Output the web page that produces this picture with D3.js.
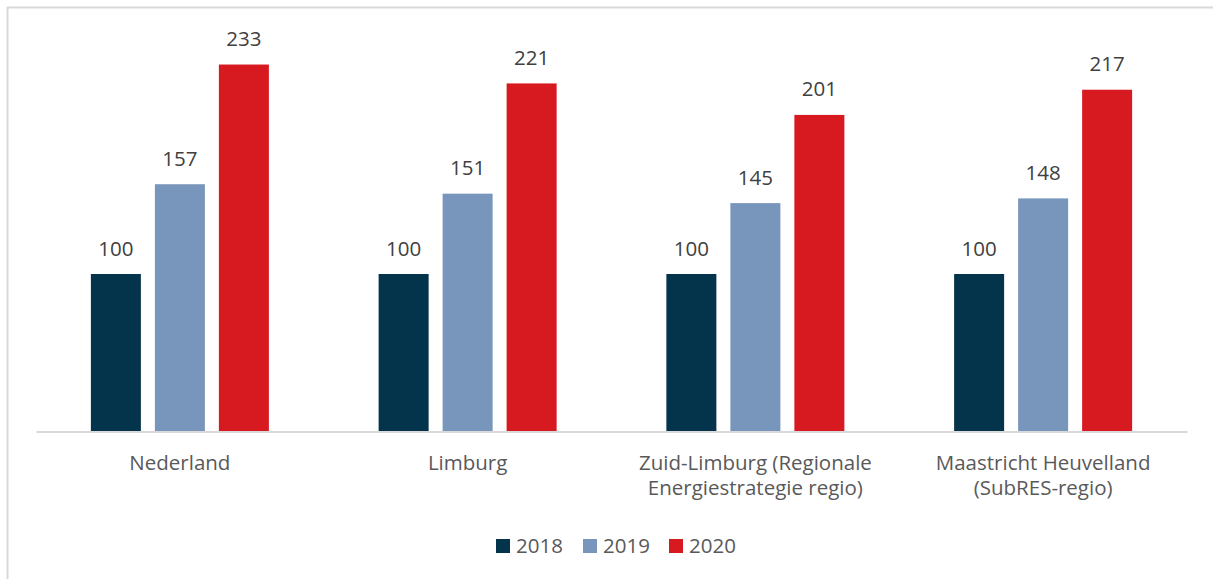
<!DOCTYPE html>
<html>
<head>
<meta charset="utf-8">
<script src="https://cdnjs.cloudflare.com/ajax/libs/d3/7.8.5/d3.min.js"></script>
<style>
  body { margin: 0; background: #fff; }
  text { font-family: "Open Sans", sans-serif; }
</style>
</head>
<body>
<div class="chart"></div>
<script>
var categories = ["Nederland", "Limburg", "Zuid-Limburg (Regionale Energiestrategie regio)", "Maastricht Heuvelland (SubRES-regio)"];
var years = ["2018", "2019", "2020"];
var values2018 = [100, 100, 100, 100];
var values2019 = [157, 151, 145, 148];
var values2020 = [233, 221, 201, 217];
var colors = ["#03344B", "#7895BB", "#D71920"];

var svgWidth = 1213;
var svgHeight = 579;

var svg = d3.select(".chart")
  .append("svg")
  .attr("width", svgWidth)
  .attr("height", svgHeight);

// outer frame (only top and left edge are visible in the crop)
svg.append("line")
  .attr("x1", 7).attr("x2", svgWidth).attr("y1", 7.5).attr("y2", 7.5)
  .attr("stroke", "#D9D9D9").attr("stroke-width", 2);
svg.append("line")
  .attr("x1", 7.5).attr("x2", 7.5).attr("y1", 7).attr("y2", svgHeight)
  .attr("stroke", "#D9D9D9").attr("stroke-width", 2);

var series = [values2018, values2019, values2020];
var data = [];
categories.forEach(function(c, i) {
  years.forEach(function(y, j) {
    data.push({ cat: c, year: y, value: series[j][i] });
  });
});

var x0 = d3.scaleBand()
  .domain(categories)
  .range([36, 1187]);

var x1 = d3.scaleBand()
  .domain(years)
  .range([-89, 89])
  .paddingInner(0.21875);

var y = d3.scaleLinear()
  .domain([0, 250])
  .range([431.5, 37.75]);

var colorScale = d3.scaleOrdinal().domain(years).range(colors);

// bars
svg.append("g").selectAll("rect")
  .data(data)
  .enter()
  .append("rect")
  .attr("x", d => x0(d.cat) + x0.bandwidth() / 2 + x1(d.year))
  .attr("y", d => y(d.value))
  .attr("width", x1.bandwidth())
  .attr("height", d => y(0) - y(d.value))
  .attr("fill", d => colorScale(d.year));

// value labels
svg.append("g").selectAll("text")
  .data(data)
  .enter()
  .append("text")
  .attr("x", d => x0(d.cat) + x0.bandwidth() / 2 + x1(d.year) + x1.bandwidth() / 2)
  .attr("y", d => y(d.value) - 18.5)
  .attr("text-anchor", "middle")
  .attr("font-size", "20.5px")
  .attr("fill", "#404040")
  .text(d => d.value);

// x axis
var bottomAxis = d3.axisBottom(x0).tickSize(0).tickPadding(0);
var axisG = svg.append("g")
  .attr("transform", `translate(0, ${y(0)})`)
  .call(bottomAxis);
axisG.select(".domain").attr("stroke", "#D9D9D9").attr("stroke-width", 2);
axisG.selectAll(".tick text")
  .attr("font-family", "Open Sans, sans-serif")
  .attr("font-size", "20.5px")
  .attr("fill", "#595959")
  .attr("dy", 0)
  .attr("y", 38)
  .call(wrap, 250);

function wrap(sel, width) {
  sel.each(function() {
    var t = d3.select(this);
    var words = t.text().split(/\s+/);
    var yy = t.attr("y");
    t.text(null);
    var line = [];
    var lineNo = 0;
    var tspan = t.append("tspan").attr("x", 0).attr("y", yy);
    words.forEach(function(w) {
      line.push(w);
      tspan.text(line.join(" "));
      if (tspan.node().getComputedTextLength() > width && line.length > 1) {
        line.pop();
        tspan.text(line.join(" "));
        line = [w];
        lineNo++;
        tspan = t.append("tspan").attr("x", 0).attr("y", +yy + lineNo * 25).text(w);
      }
    });
  });
}

// legend
var legendX = [496, 583, 669];
var legend = svg.append("g").selectAll("g")
  .data(years)
  .enter()
  .append("g")
  .attr("transform", (d, i) => `translate(${legendX[i]}, 539)`);
legend.append("rect")
  .attr("width", 14).attr("height", 14)
  .attr("fill", d => colorScale(d));
legend.append("text")
  .attr("x", 20).attr("y", 14)
  .attr("font-size", "20.5px")
  .attr("fill", "#595959")
  .text(d => d);
</script>
</body>
</html>
